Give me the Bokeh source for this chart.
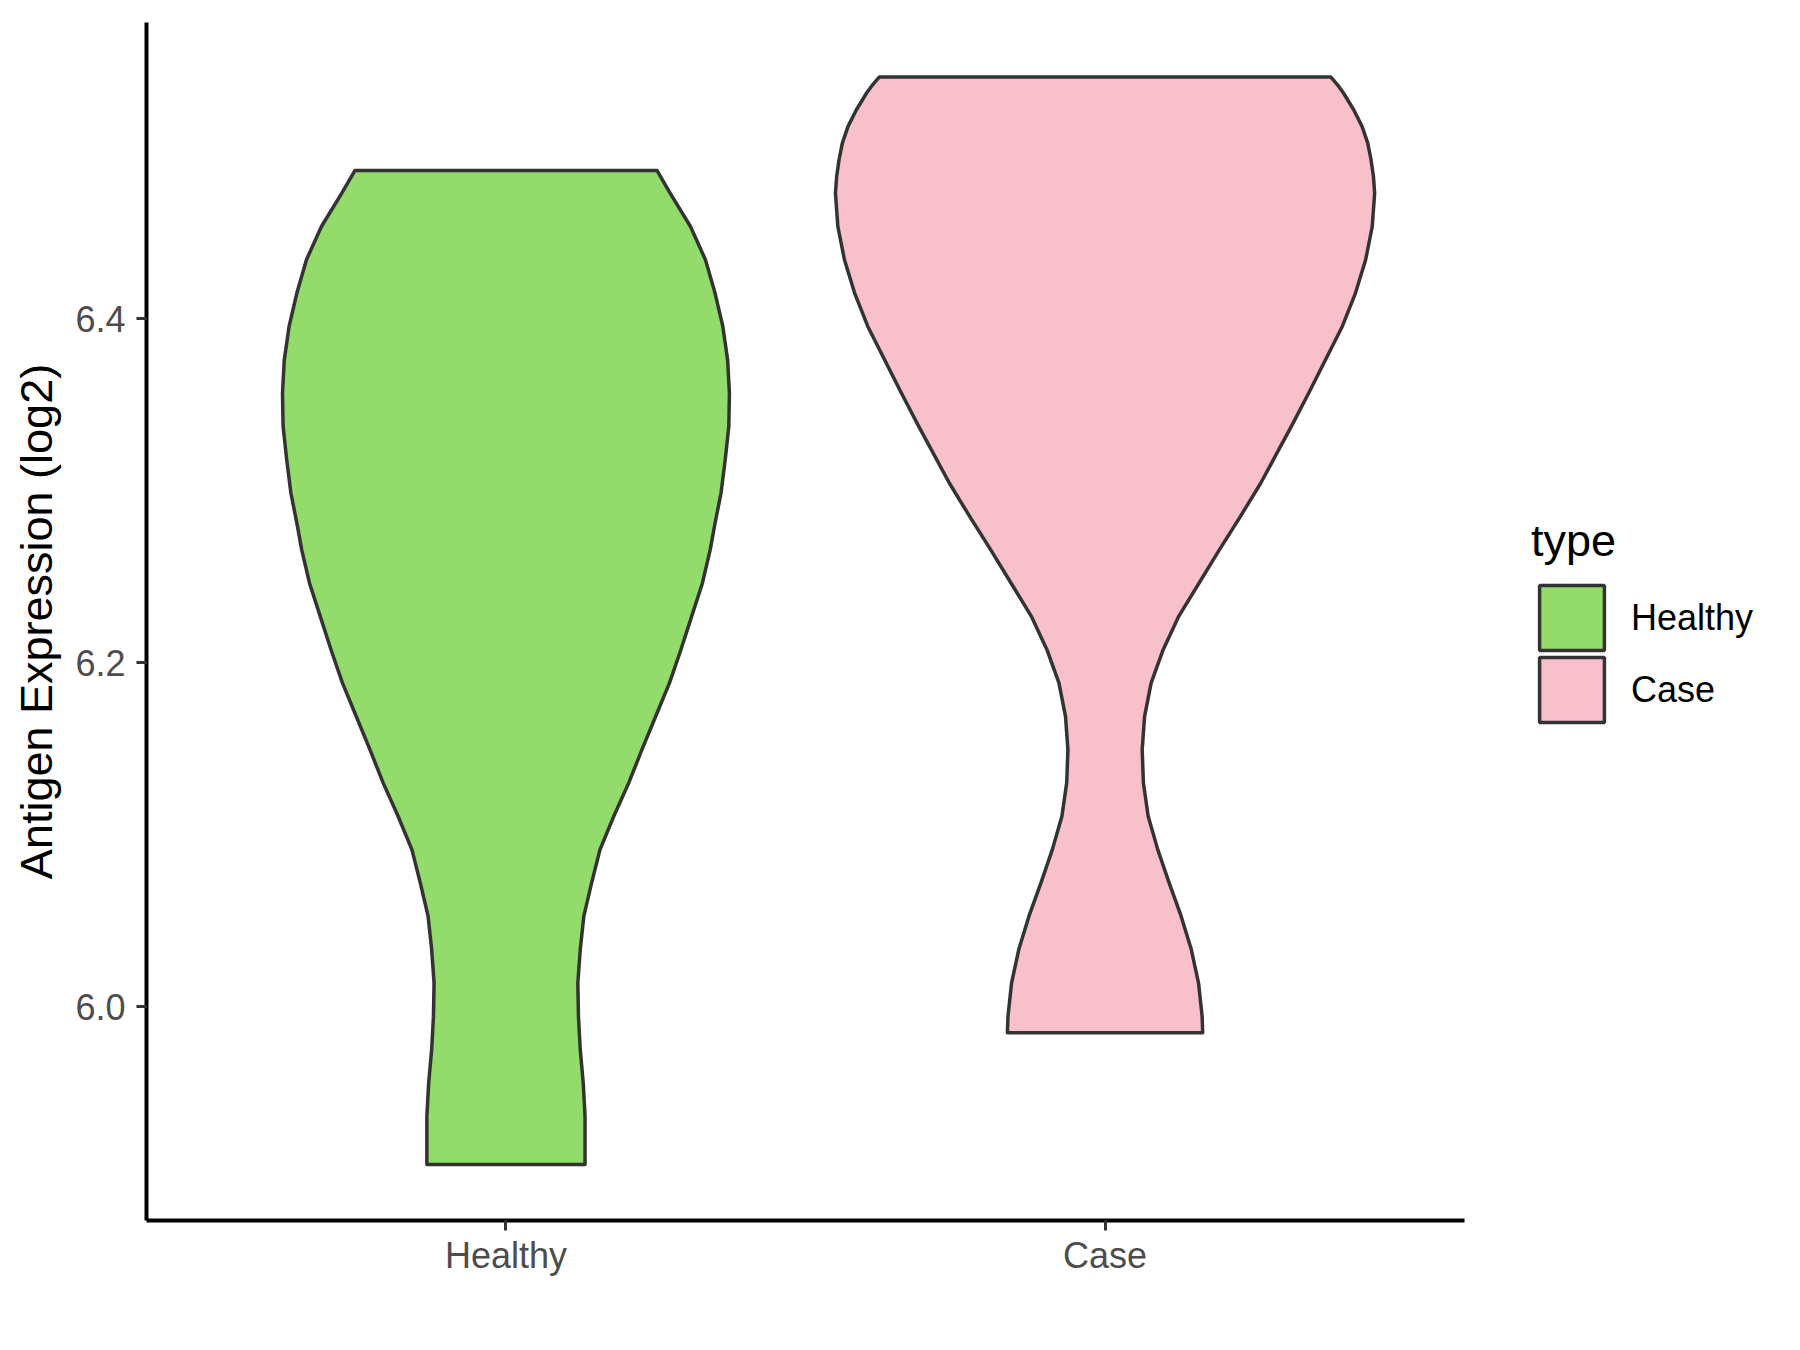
from bokeh.plotting import figure
from bokeh.layouts import row
from bokeh.models import (Range1d, FixedTicker, PrintfTickFormatter, Legend,
                          LegendItem)
from bokeh.embed import file_html
from bokeh.resources import INLINE

# ---------------- data ----------------
categories = ["Healthy", "Case"]
category_pos = [1, 2]
fill_colors = ["#93DB6A", "#F8C0CB"]

# violin outline: expression level (log2) and half-width (category units)
healthy_y = [6.4862, 6.4730, 6.4536, 6.4343, 6.4149, 6.3955, 6.3762, 6.3568,
             6.3374, 6.3181, 6.2987, 6.2793, 6.2658, 6.2464, 6.2270, 6.2076,
             6.1883, 6.1689, 6.1495, 6.1302, 6.1108, 6.0914, 6.0721, 6.0527,
             6.0333, 6.0140, 5.9946, 5.9752, 5.9558, 5.9365, 5.9084]
healthy_halfwidth = [0.252, 0.274, 0.308, 0.333, 0.349, 0.362, 0.370, 0.373,
                     0.372, 0.366, 0.359, 0.348, 0.341, 0.328, 0.310, 0.292,
                     0.273, 0.250, 0.227, 0.205, 0.180, 0.157, 0.143, 0.130,
                     0.124, 0.120, 0.121, 0.124, 0.129, 0.132, 0.132]

case_y = [6.5405, 6.5360, 6.5312, 6.5215, 6.5118, 6.5021, 6.4924, 6.4827,
          6.4730, 6.4536, 6.4343, 6.4149, 6.3955, 6.3762, 6.3568, 6.3374,
          6.3239, 6.3045, 6.2851, 6.2658, 6.2464, 6.2270, 6.2076, 6.1883,
          6.1689, 6.1495, 6.1302, 6.1108, 6.0914, 6.0721, 6.0527, 6.0333,
          6.0140, 5.9946, 5.9849]
case_halfwidth = [0.377, 0.388, 0.398, 0.415, 0.429, 0.4385, 0.444, 0.448,
                  0.450, 0.446, 0.435, 0.418, 0.396, 0.368, 0.340, 0.311,
                  0.290, 0.260, 0.226, 0.191, 0.157, 0.123, 0.097, 0.077,
                  0.066, 0.062, 0.064, 0.072, 0.088, 0.107, 0.127, 0.144,
                  0.156, 0.162, 0.163]

y_ticks = [6.0, 6.2, 6.4]
y_label = "Antigen Expression (log2)"
legend_title = "type"

FONT = "Liberation Sans"
OUTLINE = "#333333"
HEIGHT = 1330
FRAME_BOTTOM = 1220  # frames of the row are aligned

# ---------------- main figure ----------------
p = figure(frame_width=1318, frame_height=1198,
           x_range=Range1d(0.4, 2.6), y_range=Range1d(5.8758, 6.5722),
           output_backend="svg", toolbar_location=None,
           min_border_left=146, min_border_top=22,
           min_border_bottom=110, min_border_right=10)

p.background_fill_color = "white"
p.border_fill_color = "white"
p.outline_line_color = None
p.xgrid.grid_line_color = None
p.ygrid.grid_line_color = None


def violin(center, ys, hws):
    xs = [center - w for w in reversed(hws)] + [center + w for w in hws]
    yy = list(reversed(ys)) + list(ys)
    return xs, yy


shapes = []
for pos, ys, hws, col in zip(category_pos, [healthy_y, case_y],
                             [healthy_halfwidth, case_halfwidth], fill_colors):
    xs, yy = violin(pos, ys, hws)
    shapes.append((xs, yy))
    p.patch(xs, yy, fill_color=col, line_color=OUTLINE, line_width=3.5,
            line_join="round")

# ---------------- axes ----------------
p.xaxis.ticker = FixedTicker(ticks=category_pos)
p.xaxis.major_label_overrides = {pos: cat for pos, cat in zip(category_pos, categories)}
p.yaxis.ticker = FixedTicker(ticks=y_ticks)
p.yaxis.formatter = PrintfTickFormatter(format="%.1f")

for ax in (p.xaxis[0], p.yaxis[0]):
    ax.axis_line_color = "black"
    ax.axis_line_width = 4
    ax.major_tick_line_color = OUTLINE
    ax.major_tick_line_width = 3
    ax.major_tick_out = 10
    ax.major_tick_in = 0
    ax.minor_tick_line_color = None
    ax.major_label_text_font = FONT
    ax.major_label_text_font_size = "36px"
    ax.major_label_text_color = "#4D4D4D"

p.xaxis.major_label_standoff = 4
p.yaxis.major_label_standoff = 11
p.yaxis.axis_label = y_label
p.yaxis.axis_label_text_font = FONT
p.yaxis.axis_label_text_font_size = "45px"
p.yaxis.axis_label_text_font_style = "normal"
p.yaxis.axis_label_text_color = "black"
p.yaxis.axis_label_standoff = 10

# ---------------- legend panel (ggplot-style guide to the right) ----------------
lg = figure(width=300, height=HEIGHT, min_border=0, output_backend="svg",
            toolbar_location=None, x_axis_location=None, y_axis_location=None,
            x_range=Range1d(-20, -19), y_range=Range1d(-20, -19))
lg.outline_line_color = None
lg.background_fill_color = "white"
lg.border_fill_color = "white"
lg.grid.grid_line_color = None

# same violins, kept out of view: they only supply the legend keys' styling
key_renderers = [lg.patch(xs, yy, fill_color=col, line_color=OUTLINE,
                          line_width=3.5)
                 for (xs, yy), col in zip(shapes, fill_colors)]

common = dict(orientation="vertical", glyph_width=81, glyph_height=81,
              label_standoff=19, padding=0, margin=0, spacing=0,
              border_line_color=None, background_fill_alpha=0,
              label_text_font=FONT, label_text_font_size="36px",
              label_text_color="black")

leg1 = Legend(items=[LegendItem(label=categories[0], renderers=[key_renderers[0]])],
              location=(57, FRAME_BOTTOM - 658), title=legend_title,
              title_text_font=FONT, title_text_font_size="45px",
              title_text_font_style="normal", title_text_color="black",
              title_standoff=10, **common)
leg2 = Legend(items=[LegendItem(label=categories[1], renderers=[key_renderers[1]])],
              location=(57, FRAME_BOTTOM - 730), **common)
lg.add_layout(leg1)
lg.add_layout(leg2)

layout = row(p, lg)
open("out.html", "w").write(file_html(layout, INLINE))
